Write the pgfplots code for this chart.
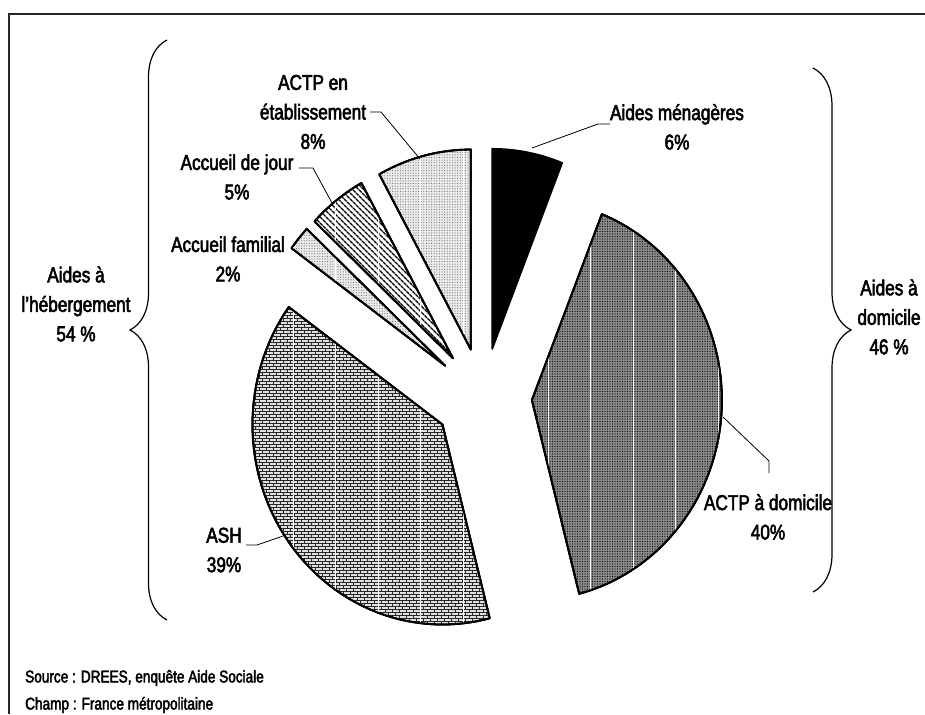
\documentclass[border=0pt]{standalone}
\usepackage{pgfplots}
\pgfplotsset{compat=1.18}
\usepackage{pgfplotstable}
\usepackage{fontspec}
\setmainfont{Liberation Sans}[FakeStretch=0.8, FakeBold=2.5]
\usetikzlibrary{patterns,patterns.meta,decorations.pathreplacing}

% shares in %, clockwise from 12 o'clock
\pgfplotstableread{
share
6
40
39
2
5
8
}\piedata

\def\cum{0}
\newcommand\pieslice[2]{%
  \pgfplotstablegetelem{#1}{share}\of\piedata
  \pgfmathsetmacro\aA{3.6*\cum}%
  \pgfmathsetmacro\aB{3.6*(\cum+\pgfplotsretval)}%
  \pgfmathsetmacro\aM{(\aA+\aB)/2}%
  \pgfmathsetmacro\ox{483+49*sin(\aM)}%
  \pgfmathsetmacro\oy{397-49*cos(\aM)}%
  \pgfmathsetmacro\newcum{\cum+\pgfplotsretval}%
  \xdef\cum{\newcum}%
  \edef\doit{\noexpand\addplot[draw=black,line width=1.8pt,line join=round,#2,domain=\aA:\aB,samples=90,variable=\noexpand\t]
    ({\ox+190*sin(\noexpand\t)},{\oy-200*cos(\noexpand\t)}) -- (axis cs:\ox,\oy) -- cycle;}%
  \doit
}
\newcommand\lab{\fontsize{21.5}{29.5}\selectfont}

% white vertical tiling stripes (every 42.5 px)
\pgfdeclarepatternformonly{vwhite}{\pgfpoint{0pt}{-1pt}}{\pgfpoint{42.5pt}{2pt}}{\pgfpoint{42.5pt}{1pt}}{%
  \pgfpathrectangle{\pgfpoint{37.5pt}{-1pt}}{\pgfpoint{1.1pt}{3pt}}\pgfusepath{fill}}
% small bricks
\pgfdeclarepatternformonly{smallbricks}{\pgfpoint{-0.5pt}{-0.5pt}}{\pgfpoint{7.5pt}{6.5pt}}{\pgfpoint{7pt}{6pt}}{%
  \pgfsetlinewidth{0.8pt}%
  \pgfpathmoveto{\pgfpoint{-0.5pt}{0pt}}\pgfpathlineto{\pgfpoint{7.5pt}{0pt}}%
  \pgfpathmoveto{\pgfpoint{-0.5pt}{3pt}}\pgfpathlineto{\pgfpoint{7.5pt}{3pt}}%
  \pgfpathmoveto{\pgfpoint{0pt}{0pt}}\pgfpathlineto{\pgfpoint{0pt}{3pt}}%
  \pgfpathmoveto{\pgfpoint{3.5pt}{3pt}}\pgfpathlineto{\pgfpoint{3.5pt}{6pt}}%
  \pgfusepath{stroke}}
\tikzset{wl/.style={postaction={pattern=vwhite, pattern color=white}}}

\begin{document}
\begin{tikzpicture}
\begin{axis}[at={(0,0)}, anchor=south west, width=925pt, height=714pt, scale only axis,
  xmin=0, xmax=925, ymin=0, ymax=714, y dir=reverse, hide axis, clip=false]

\pieslice{0}{fill=black}
\pieslice{1}{fill=black!45, postaction={pattern={Dots[distance=2.5pt,radius=0.7pt]}}, wl}
\pieslice{2}{fill=black!12, postaction={pattern=smallbricks, pattern color=black!85}, wl}
\pieslice{3}{fill=black!8, postaction={pattern={Dots[distance=2.6pt,radius=0.55pt]}, pattern color=black!60}, wl}
\pieslice{4}{fill=white, postaction={pattern={Lines[angle=-45,distance=4pt,line width=1.6pt]}}, wl}
\pieslice{5}{fill=black!8, postaction={pattern={Dots[distance=2.6pt,radius=0.55pt]}, pattern color=black!60}, wl}

% frame
\draw[line width=1.4pt, black!85] (axis cs:925,14) -- (axis cs:9,14) -- (axis cs:9,714);

% leader lines
\draw[line width=0.8pt] (axis cs:370,112) -- (axis cs:381,112) -- (axis cs:420,159);
\draw[line width=0.8pt] (axis cs:299,168) -- (axis cs:313,168) -- (axis cs:332,203);
\draw[line width=0.8pt] (axis cs:610,124) -- (axis cs:598,124) -- (axis cs:532,148);
\draw[line width=0.8pt] (axis cs:246,545) -- (axis cs:257,545) -- (axis cs:283,536);
\draw[line width=0.8pt] (axis cs:723,417) -- (axis cs:769,461) -- (axis cs:769,473);

% braces
\draw[line width=1.2pt, decorate, decoration={brace, amplitude=37pt}] (axis cs:167,620) -- (axis cs:167,40);
\draw[line width=1.2pt, decorate, decoration={brace, amplitude=38pt}] (axis cs:813,68) -- (axis cs:813,592);

% labels
\node[align=center, inner sep=0, font=\lab] at (axis cs:313,112) {ACTP en\\établissement\\8\%};
\node[align=center, inner sep=0, font=\lab] at (axis cs:237,177) {Accueil de jour\\5\%};
\node[align=center, inner sep=0, font=\lab] at (axis cs:228,259) {Accueil familial\\2\%};
\node[align=center, inner sep=0, font=\lab] at (axis cs:677,127) {Aides ménagères\\6\%};
\node[align=center, inner sep=0, font=\lab] at (axis cs:224,550) {ASH\\39\%};
\node[align=center, inner sep=0, font=\lab] at (axis cs:768,517) {ACTP à domicile\\40\%};
\node[align=center, inner sep=0, font=\lab] at (axis cs:76,304) {Aides à\\l'hébergement\\54 \%};
\node[align=center, inner sep=0, font=\lab] at (axis cs:889,317) {Aides à\\domicile\\46 \%};

\node[anchor=west, inner sep=0, font=\fontsize{17}{22}\selectfont] at (axis cs:25,678) {Source : DREES, enquête Aide Sociale};
\node[anchor=west, inner sep=0, font=\fontsize{17}{22}\selectfont] at (axis cs:25,705) {Champ : France métropolitaine};
\end{axis}
\pgfresetboundingbox
\path[use as bounding box] (0,0) rectangle (925pt,714pt);
\end{tikzpicture}
\end{document}
